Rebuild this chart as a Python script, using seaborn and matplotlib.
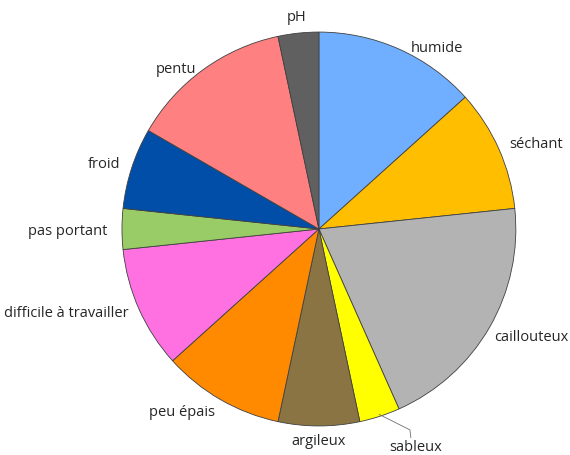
import numpy as np
import matplotlib
matplotlib.use("Agg")
import matplotlib.pyplot as plt
import seaborn as sns

# Données
categories = ["humide", "séchant", "caillouteux", "sableux", "argileux",
              "peu épais", "difficile à travailler", "pas portant",
              "froid", "pentu", "pH"]
valeurs = [4, 3, 6, 1, 2, 3, 3, 1, 2, 4, 1]
couleurs = ["#70AFFF", "#FFBF00", "#B3B3B3", "#FFFF00", "#8B7443",
            "#FF8A00", "#FF70E0", "#99CC66", "#004EA8", "#FF8080", "#606060"]

sns.set_style("white")
plt.rcParams["font.family"] = ["Open Sans", "DejaVu Sans"]

fig = plt.figure(figsize=(5.7, 4.55), dpi=100)
ax = fig.add_axes([0.214, 0.0637, 0.691, 0.866])

wedges, _ = ax.pie(
    valeurs,
    colors=sns.color_palette(couleurs),
    startangle=90,
    counterclock=False,
    radius=1,
    wedgeprops={"edgecolor": "#404040", "linewidth": 0.6},
)

# petits décalages d'étiquettes (en points)
decalages = {"humide": (5, -7), "pentu": (0, -7), "caillouteux": (-4, -3),
             "pas portant": (-2, -2), "peu épais": (0, -2)}

for w, label in zip(wedges, categories):
    ang = np.deg2rad((w.theta1 + w.theta2) / 2)
    x, y = np.cos(ang), np.sin(ang)
    if label == "sableux":
        # trait de rappel
        ax.plot([0.99 * x, 0.462, 0.467], [0.99 * y, -1.02, -1.06],
                color="#707070", lw=0.6, clip_on=False)
        ax.text(0.49, -1.11, label, ha="center", va="center", fontsize=10.5)
        continue
    d = 1.06
    if abs(x) < 0.25:
        ha = "center"
        d = 1.08
    else:
        ha = "left" if x > 0 else "right"
    dx, dy = decalages.get(label, (0, 0))
    ax.annotate(label, xy=(d * x, d * y), xytext=(dx, dy),
                textcoords="offset points", ha=ha, va="center",
                fontsize=10.5, annotation_clip=False)

ax.set_xlim(-1, 1)
ax.set_ylim(-1, 1)
ax.set_aspect("equal")
ax.axis("off")

fig.savefig("out.png", dpi=100, facecolor="white")
